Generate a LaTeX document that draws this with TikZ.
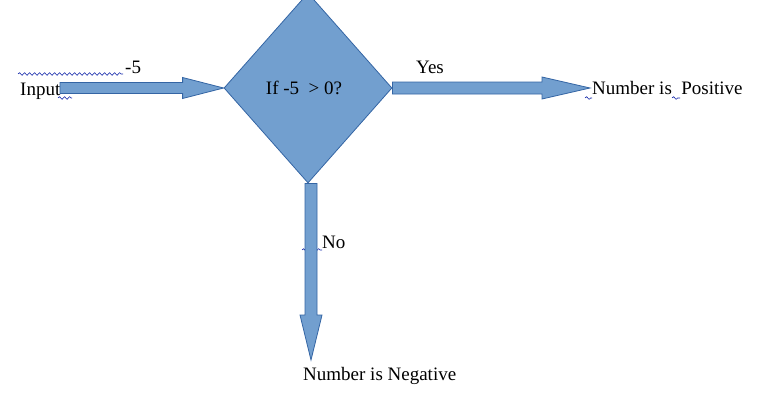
\documentclass[tikz,border=0pt]{standalone}
\usepackage{fontspec}
\setmainfont{Liberation Serif}
\usetikzlibrary{calc,shapes.geometric,decorations.pathmorphing}
\definecolor{boxfill}{RGB}{114,159,207}
\definecolor{boxline}{RGB}{52,101,164}
\definecolor{squig}{RGB}{20,40,170}
\newcommand{\blockH}[5]{%
  \draw[barrow] ($(#1)+(0,-#3)$) -- ($(#2)+(-#5,-#3)$) -- ($(#2)+(-#5,-#4)$) -- (#2)
    -- ($(#2)+(-#5,#4)$) -- ($(#2)+(-#5,#3)$) -- ($(#1)+(0,#3)$) -- cycle;}
\newcommand{\blockV}[5]{%
  \draw[barrow] ($(#1)+(-#3,0)$) -- ($(#2)+(-#3,-#5)$) -- ($(#2)+(-#4,-#5)$) -- (#2)
    -- ($(#2)+(#4,-#5)$) -- ($(#2)+(#3,-#5)$) -- ($(#1)+(#3,0)$) -- cycle;}
\begin{document}
\begin{tikzpicture}[x=1pt,y=-1pt,
  lbl/.style={font=\fontsize{19}{23}\selectfont, inner sep=0pt, anchor=base west, text=black},
  decision/.style={diamond, fill=boxfill, draw=boxline, line width=0.8pt, inner sep=0pt,
    minimum width=168pt, minimum height=190pt, font=\fontsize{19}{23}\selectfont},
  barrow/.style={fill=boxfill, draw=boxline, line width=0.8pt, line join=miter},
  squiggle/.style={draw=squig, line width=0.6pt, decorate,
    decoration={snake, amplitude=1.3pt, segment length=5pt}}]
\useasboundingbox (0,0) rectangle (783,412);
\clip (0,0) rectangle (783,412);

% spell-check squiggles
\draw[squiggle] (18,74) -- (123,74);
\draw[squiggle] (58,98) -- (72,98);
\draw[squiggle] (585,98) -- (592,98);
\draw[squiggle] (672,98) -- (680,98);
\draw[squiggle] (302,250) -- (322,250);

% nodes
\node[decision] (dia) at (308,88) {If -5~~> 0?\kern8pt};
\node[lbl] (input) at (20,95) {Input};
\node[lbl] (m5) at (125,73) {-5};
\node[lbl] (yes) at (416,73) {Yes};
\node[lbl] (pos) at (592,94) {Number is~~Positive};
\node[lbl] (no) at (322,248) {No};
\node[lbl] (neg) at (303,380) {Number is Negative};

% connector ends
\coordinate (inTail) at (60,88);
\coordinate (posTip) at (590,88);
\coordinate (dTail) at ($(dia.south)+(3,0)$);
\coordinate (negTip) at (311,360);

% block arrows
\blockH{inTail}{dia.west}{5.5}{10.5}{41}
\blockH{dia.east}{posTip}{6}{11}{48}
\blockV{dTail}{negTip}{6}{11}{45}
\end{tikzpicture}
\end{document}
